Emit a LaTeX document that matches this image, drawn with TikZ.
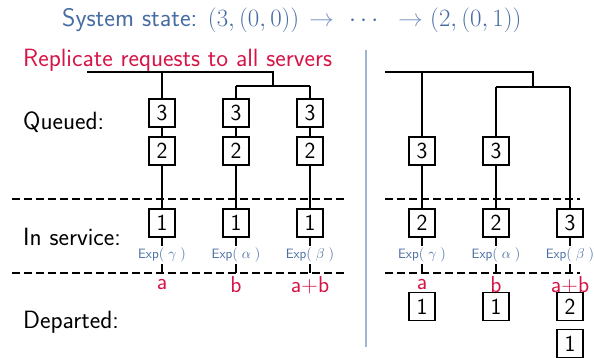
\documentclass[tikz,border=0pt]{standalone}
\usepackage{amsmath}
\definecolor{stblue}{RGB}{70,108,163}
\definecolor{arrblue}{RGB}{125,152,196}
\definecolor{divblue}{RGB}{160,180,212}
\definecolor{crim}{RGB}{214,20,70}
\begin{document}
\begin{tikzpicture}[x=1pt,y=-1pt,
  qbox/.style={draw, line width=1.3pt, fill=white, minimum width=26pt, minimum height=28pt, inner sep=0pt, font=\sffamily\fontsize{23}{23}\selectfont},
  tree/.style={line width=2.3pt},
  sepline/.style={line width=2pt, dash pattern=on 7.5pt off 4.5pt},
  lbl/.style={anchor=base west, inner sep=0pt, font=\sffamily\fontsize{25}{25}\selectfont},
  rate/.style={fill=white, inner sep=1.5pt, text=stblue, font=\sffamily\fontsize{13.5}{13.5}\selectfont},
  outl/.style={text=crim, inner sep=0pt, font=\sffamily\fontsize{23}{23}\selectfont},
  ttl/.style={anchor=base west, inner sep=0pt, text=stblue, font=\sffamily\fontsize{25.5}{25.5}\selectfont}
]
\useasboundingbox (0,0) rectangle (594,358);

% title
\node[ttl] (t1) at (62,27) {System state: $(3,(0,0))$};
\node[ttl, text=arrblue] (t2) at (309,27) {$\rightarrow$};
\node[ttl] (t3) at (349,27) {$\cdots$};
\node[ttl, text=arrblue] (t4) at (398,27) {$\rightarrow$};
\node[ttl] (t5) at (430,27) {$(2,(0,1))$};

\node[lbl, text=crim] (rep) at (23,67) {Replicate requests to all servers};

% row labels
\node[lbl] (queued) at (23,130) {Queued:};
\node[lbl] (insvc) at (23,245) {In service:};
\node[lbl] (dep) at (23,328) {Departed:};

% divider
\coordinate (dvt) at (366,50);
\coordinate (dvb) at (366,347);
\draw[divblue, line width=2pt] (dvt) -- (dvb);

% dashed separators
\coordinate (La1) at (12,199); \coordinate (Lb1) at (348,199);
\coordinate (La2) at (12,273); \coordinate (Lb2) at (348,273);
\coordinate (Ra1) at (385,199); \coordinate (Rb1) at (580,199);
\coordinate (Ra2) at (385,273); \coordinate (Rb2) at (580,273);
\draw[sepline] (La1) -- (Lb1);
\draw[sepline] (La2) -- (Lb2);
\draw[sepline] (Ra1) -- (Rb1);
\draw[sepline] (Ra2) -- (Rb2);

% ---------- left system ----------
\foreach \c/\x in {A/162,B/236,C/310}{
  \node[qbox] (L\c3) at (\x,113) {3};
  \node[qbox] (L\c2) at (\x,151) {2};
  \node[qbox] (L\c1) at (\x,223) {1};
  \coordinate (L\c e) at (\x,273);
  \draw[tree] (L\c3) -- (L\c2);
  \draw[tree] (L\c2) -- (L\c1);
  \draw[tree] (L\c1) -- (L\c e);
}
\coordinate (Ltl) at (87,72);
\coordinate (Ltr) at (273,72);
\coordinate (Lj) at (273,86);
\coordinate (LjB) at (236,86);
\coordinate (LjC) at (310,86);
\coordinate (LtA) at (162,72);
\draw[tree] (Ltl) -- (Ltr) -- (Lj);
\draw[tree] (LjB) -- (LjC);
\draw[tree] (LtA) -- (LA3);
\draw[tree] (LjB) -- (LB3);
\draw[tree] (LjC) -- (LC3);

\node[rate] (LrA) at (162,255) {Exp$(\;\gamma\;)$};
\node[rate] (LrB) at (236,255) {Exp$(\;\alpha\;)$};
\node[rate] (LrC) at (310,255) {Exp$(\;\beta\;)$};
\node[outl] (LoA) at (162,285) {a};
\node[outl] (LoB) at (236,285) {b};
\node[outl] (LoC) at (310,285) {a+b};

% ---------- right system ----------
\node[qbox] (RA3) at (422,151) {3};
\node[qbox] (RA2) at (422,223) {2};
\node[qbox] (RB3) at (496,151) {3};
\node[qbox] (RB2) at (496,223) {2};
\node[qbox] (RC3) at (570,223) {3};
\foreach \c/\x in {A/422,B/496,C/570}{
  \coordinate (R\c e) at (\x,273);
}
\draw[tree] (RA3) -- (RA2);
\draw[tree] (RB3) -- (RB2);
\draw[tree] (RA2) -- (RAe);
\draw[tree] (RB2) -- (RBe);
\draw[tree] (RC3) -- (RCe);
\coordinate (Rtl) at (385,72);
\coordinate (Rtr) at (533,72);
\coordinate (Rj) at (533,87);
\coordinate (RjB) at (496,87);
\coordinate (RjC) at (570,87);
\coordinate (RtA) at (422,72);
\draw[tree] (Rtl) -- (Rtr) -- (Rj);
\draw[tree] (RjB) -- (RjC);
\draw[tree] (RtA) -- (RA3);
\draw[tree] (RjB) -- (RB3);
\draw[tree] (RjC) -- (RC3);

\node[rate] (RrA) at (422,255) {Exp$(\;\gamma\;)$};
\node[rate] (RrB) at (496,255) {Exp$(\;\alpha\;)$};
\node[rate] (RrC) at (570,255) {Exp$(\;\beta\;)$};
\node[outl] (RoA) at (422,285) {a};
\node[outl] (RoB) at (496,285) {b};
\node[outl] (RoC) at (570,285) {a+b};

\node[qbox] (RdA1) at (422,306.5) {1};
\node[qbox] (RdB1) at (496,306.5) {1};
\node[qbox] (RdC2) at (570,306.5) {2};
\node[qbox] (RdC1) at (570,343.5) {1};
\end{tikzpicture}
\end{document}
